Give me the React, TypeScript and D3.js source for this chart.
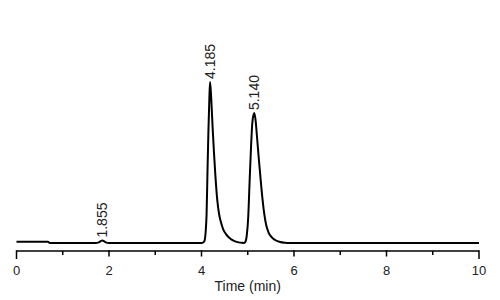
import React from "react";
import * as d3 from "d3";

// Chromatogram trace: retention time (min) and detector signal (relative units)
const times = [
  0, 0.68, 0.72, 1.7, 1.78, 1.82, 1.855, 1.89, 1.93, 2.0, 3.9,
  4.0, 4.03, 4.06, 4.09, 4.11, 4.13, 4.15, 4.17, 4.185, 4.21, 4.24, 4.27, 4.3, 4.34, 4.38, 4.43, 4.47, 4.53, 4.6, 4.7, 4.8, 4.87,
  4.92, 4.95, 4.98, 5.01, 5.04, 5.07, 5.1, 5.14, 5.17, 5.2, 5.24, 5.28, 5.32, 5.36, 5.4, 5.45, 5.52, 5.6, 5.7, 5.8, 5.9,
  10,
];
const signal = [
  0.8, 0.8, 0, 0, 0.4, 1.2, 1.5, 1.2, 0.4, 0, 0,
  0, 0.2, 1, 7, 18, 45, 70, 90, 100, 90, 72, 56, 42, 27, 18, 12, 8.5, 5.5, 3.2, 1.3, 0.4, 0.1,
  0, 0.8, 5, 16, 38, 59, 75, 80.7, 76, 66, 52, 39, 27, 17.5, 11, 6.5, 3.5, 1.7, 0.6, 0.15, 0,
  0,
];

const peakTimes = [1.855, 4.185, 5.14];
const peakHeights = [1.5, 100, 80.7];
const peakLabels = ["1.855", "4.185", "5.140"];

const majorTicks = [0, 2, 4, 6, 8, 10];
const minorTicks = [1, 3, 5, 7, 9];
const xTitle = "Time (min)";

export default function App() {
  const W = 500, H = 300;
  const x = d3.scaleLinear().domain([0, 10]).range([16.5, 479]);
  const y = d3.scaleLinear().domain([0, 100]).range([243, 82]);
  const pts = times.map((t, i) => [t, signal[i]] as [number, number]);
  const line = d3.line<[number, number]>()
    .x(d => x(d[0]))
    .y(d => y(d[1]))
    .curve(d3.curveMonotoneX);
  const axisY = 251;
  const font = "'Liberation Sans', Arial, sans-serif";
  return (
    <svg width={W} height={H} style={{ position: "absolute", left: 0, top: 0, background: "#fff" }}>
      <rect width={W} height={H} fill="#fff" />
      <path d={line(pts) ?? ""} fill="none" stroke="#000" strokeWidth={2} strokeLinejoin="round" />
      <line x1={x(0)} x2={x(10)} y1={axisY} y2={axisY} stroke="#000" strokeWidth={1.5} />
      {majorTicks.map(t => {
        const end = t === 0 || t === 10;
        return (
          <line key={"M" + t} x1={x(t)} x2={x(t)} y1={axisY - 0.75} y2={axisY + (end ? 8 : 5.5)} stroke="#000" strokeWidth={1.5} />
        );
      })}
      {minorTicks.map(t => (
        <line key={"m" + t} x1={x(t)} x2={x(t)} y1={axisY} y2={axisY + 4} stroke="#000" strokeWidth={1.5} />
      ))}
      {majorTicks.map(t => (
        <text key={"l" + t} x={x(t)} y={275} textAnchor="middle" fontFamily={font} fontSize={13} fill="#222">
          {t}
        </text>
      ))}
      <text x={(x(0) + x(10)) / 2} y={291} textAnchor="middle" fontFamily={font} fontSize={14} fill="#222">
        {xTitle}
      </text>
      {peakTimes.map((t, i) => {
        const px = x(t), py = y(peakHeights[i]) - 3;
        return (
          <text key={"p" + i} transform={`translate(${px},${py}) rotate(-90)`} dy="0.35em" textAnchor="start"
            fontFamily={font} fontSize={14} fill="#222">
            {peakLabels[i]}
          </text>
        );
      })}
    </svg>
  );
}
